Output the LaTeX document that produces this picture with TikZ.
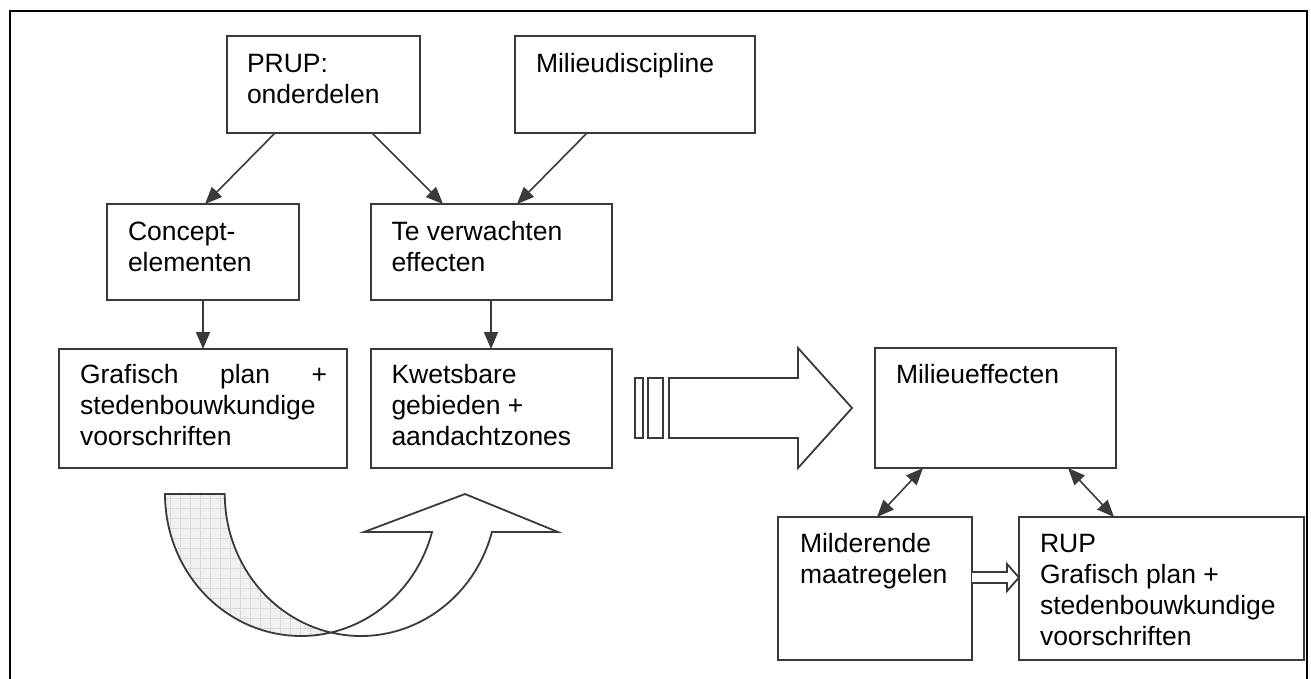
\documentclass[tikz,border=0pt]{standalone}
\usepackage{fontspec}
\setmainfont{Liberation Sans}
\usetikzlibrary{arrows.meta,calc,patterns.meta}
\definecolor{ln}{HTML}{3A3A3A}
\begin{document}
\begin{tikzpicture}[x=1pt,y=-1pt,
  box/.style={draw=ln, line width=1.8pt, fill=white, inner sep=0pt, outer sep=0pt, anchor=north west},
  txt/.style={inner sep=0pt, outer sep=0pt, anchor=base west, font=\fontsize{26.5}{31}\selectfont},
  conn/.style={draw=ln, line width=1.6pt, -{Triangle[length=17pt,width=14pt]}},
  biconn/.style={draw=ln, line width=1.6pt, {Triangle[length=17pt,width=14pt]}-{Triangle[length=17pt,width=14pt]}},
  blockshape/.style={draw=ln, line width=1.8pt, fill=white, line join=miter},
  hatched/.style={draw=ln, line width=1.8pt,
    preaction={fill=gray!12},
    preaction={pattern={Lines[angle=0,distance=10pt,line width=0.7pt]}, pattern color=gray!30},
    preaction={pattern={Lines[angle=90,distance=10pt,line width=0.7pt]}, pattern color=gray!30}},
  frame/.style={draw=black, line width=2.2pt}]
\useasboundingbox (0,0) rectangle (1311,678);
\clip (0,0) rectangle (1311,678);
\draw[frame] (10,11) rectangle (1307,720);

% boxes
\node[box, minimum width=193pt, minimum height=97pt] (prup) at (227,36) {};
\node[box, minimum width=240pt, minimum height=97pt] (milieu) at (515,36) {};
\node[box, minimum width=192pt, minimum height=96pt] (concept) at (107,204) {};
\node[box, minimum width=241pt, minimum height=96pt] (te) at (371,204) {};
\node[box, minimum width=288pt, minimum height=119pt] (grafisch) at (59,349) {};
\node[box, minimum width=241pt, minimum height=119pt] (kwets) at (371,349) {};
\node[box, minimum width=241pt, minimum height=120pt] (me) at (875,348) {};
\node[box, minimum width=194pt, minimum height=143pt] (mild) at (778,517) {};
\node[box, minimum width=285pt, minimum height=143pt] (rup) at (1019,517) {};

% texts
\node[txt] (prup-t) at (247,72) {\begin{tabular}[t]{@{}l@{}}PRUP:\\onderdelen\end{tabular}};
\node[txt] (milieu-t) at (536,72) {Milieudiscipline};
\node[txt] (concept-t) at (128,240) {\begin{tabular}[t]{@{}l@{}}Concept-\\elementen\end{tabular}};
\node[txt] (te-t) at (391.5,240) {\begin{tabular}[t]{@{}l@{}}Te verwachten\\effecten\end{tabular}};
\node[txt] (grafisch-t) at (80,383) {\begin{tabular}[t]{@{}l@{}}\hbox to 247pt{Grafisch\hfill plan\hfill +}\\stedenbouwkundige\\voorschriften\end{tabular}};
\node[txt] (kwets-t) at (391.5,383) {\begin{tabular}[t]{@{}l@{}}Kwetsbare\\gebieden +\\aandachtzones\end{tabular}};
\node[txt] (me-t) at (896,383) {Milieueffecten};
\node[txt] (mild-t) at (800,552) {\begin{tabular}[t]{@{}l@{}}Milderende\\maatregelen\end{tabular}};
\node[txt] (rup-t) at (1040,552) {\begin{tabular}[t]{@{}l@{}}RUP\\Grafisch plan +\\stedenbouwkundige\\voorschriften\end{tabular}};

% connectors
\draw[conn] ($(prup.south west)+(48,0)$) -- ($(concept.north west)+(98,0)$);
\draw[conn] ($(prup.south west)+(145,0)$) -- ($(te.north west)+(72,0)$);
\draw[conn] ($(milieu.south west)+(72,0)$) -- ($(te.north west)+(146,0)$);
\draw[conn] ($(concept.south west)+(96,0)$) -- ($(grafisch.north west)+(144,0)$);
\draw[conn] ($(te.south west)+(120,0)$) -- ($(kwets.north west)+(120,0)$);
\draw[biconn] ($(me.south west)+(48,0)$) -- ($(mild.north west)+(99,0)$);
\draw[biconn] ($(me.south west)+(193,0)$) -- ($(rup.north west)+(95,0)$);

% hollow arrow Milderende -> RUP
\draw[blockshape] ($(mild.north east)+(0,55)$) -- ++(35,0) -- ++(0,-8) -- ++(12,13.5) -- ++(-12,13.5) -- ++(0,-8) -- ++(-35,0);

% big block arrow
\draw[blockshape] (635,378) rectangle (643,438);
\draw[blockshape] (648,378) rectangle (663,438);
\draw[blockshape] (669,378) -- (798,378) -- (798,348) -- (852,408) -- (798,468) -- (798,438) -- (669,438) -- cycle;

% curved arrow
\coordinate (c1) at (301,494);
\coordinate (c2) at (361,494);
\path[hatched] ($(c1)+(-136,0)$) arc[start angle=180,end angle=77.3,x radius=136,y radius=142]
   arc[start angle=102.7,end angle=180,x radius=136,y radius=142] -- cycle;
\draw[blockshape] (331,632.5) arc[start angle=102.7,end angle=15.5,x radius=136,y radius=142]
   -- (558,532) -- (465,494) -- (364,532) -- ($(c1)+(131.05,37.95)$)
   arc[start angle=15.5,end angle=77.3,x radius=136,y radius=142] -- cycle;
\end{tikzpicture}
\end{document}
